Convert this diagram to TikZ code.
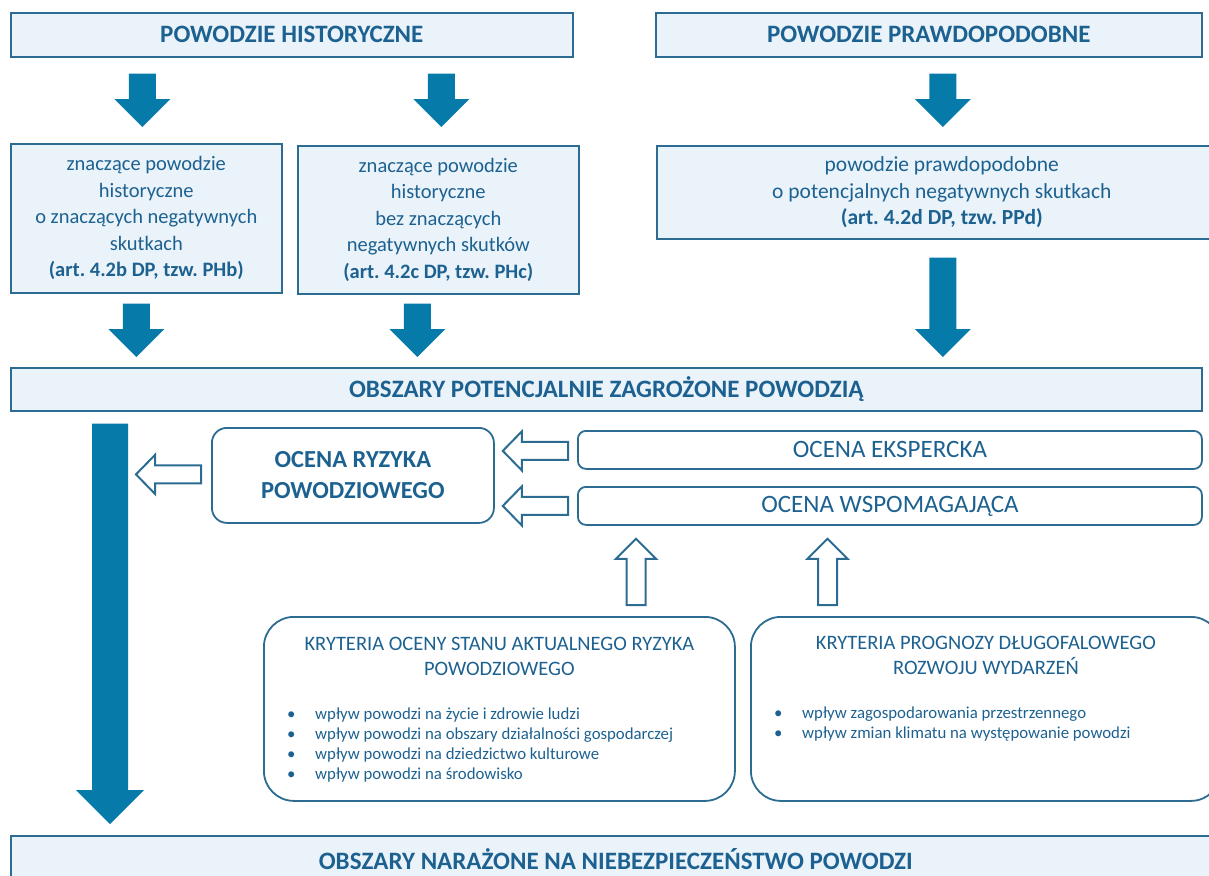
\documentclass[tikz,border=0pt]{standalone}
\usepackage{fontspec}
\setmainfont{Carlito}
\usetikzlibrary{calc,positioning}
\frenchspacing

\definecolor{txtblue}{HTML}{1D6190}
\definecolor{lineblue}{HTML}{2C6C93}
\definecolor{paleblue}{HTML}{EAF3FA}
\definecolor{arrowblue}{HTML}{067BAA}

% block arrow: style, from, to, shaft half width, head half width, head length
\newcommand{\blockarrow}[6]{%
  \coordinate (hb) at ($(#3)!#6!(#2)$);
  \draw[#1] ($(#2)!#4!90:(#3)$) -- ($(hb)!#4!-90:(#2)$) -- ($(hb)!#5!-90:(#2)$) -- (#3)
    -- ($(hb)!#5!90:(#2)$) -- ($(hb)!#4!90:(#2)$) -- ($(#2)!#4!-90:(#3)$) -- cycle;
}

\begin{document}
\begin{tikzpicture}[x=1pt, y=-1pt,
  headbox/.style = {draw=lineblue, line width=1.6pt, fill=paleblue, text=txtblue, inner sep=0pt,
    anchor=north west, align=center, font=\bfseries\fontsize{25}{29}\selectfont},
  textbox/.style = {headbox, font=\fontsize{20.5}{26.5}\selectfont},
  roundbox/.style = {draw=lineblue, line width=1.8pt, rounded corners=8pt, text=txtblue, inner sep=0pt,
    anchor=north west, align=center, font=\fontsize{25}{30}\selectfont},
  critbox/.style = {roundbox, rounded corners=30pt},
  crittitle/.style = {text=txtblue, align=center, inner sep=0pt, font=\fontsize{20.5}{25}\selectfont},
  critlist/.style = {text=txtblue, align=left, inner sep=0pt, font=\fontsize{16.8}{20}\selectfont},
  solidarr/.style = {fill=arrowblue, draw=none},
  hollowarr/.style = {draw=lineblue, line width=2pt, fill=white, line join=miter}]
	\clip (0,0) rectangle (1209,875);
	% sources
	\node[headbox, minimum width=562pt, minimum height=44pt] (hist) at (10,12) {POWODZIE HISTORYCZNE};
	\node[headbox, minimum width=546pt, minimum height=44pt] (prawd) at (655,12) {POWODZIE PRAWDOPODOBNE};
	\node[textbox, minimum width=271pt, minimum height=149pt] (phb) at (10,143)
		{znaczące powodzie\\historyczne\\o znaczących negatywnych\\skutkach\\\textbf{(art. 4.2b DP, tzw. PHb)}};
	\node[textbox, minimum width=281pt, minimum height=148pt] (phc) at (297,145)
		{znaczące powodzie\\historyczne\\bez znaczących\\negatywnych skutków\\\textbf{(art. 4.2c DP, tzw. PHc)}};
	\node[textbox, font=\fontsize{21.5}{26.5}\selectfont, minimum width=570pt, minimum height=93pt] (ppd) at (656,145)
		{powodzie prawdopodobne\\o potencjalnych negatywnych skutkach\\\textbf{(art. 4.2d DP, tzw. PPd)}};
	\node[headbox, minimum width=1191pt, minimum height=43pt] (obsz) at (10,367) {OBSZARY POTENCJALNIE ZAGROŻONE POWODZIĄ};
	% assessment
	\node[roundbox, rounded corners=15pt, font=\bfseries\fontsize{24.5}{31}\selectfont,
		minimum width=282pt, minimum height=95pt] (ryzyko) at (211,427) {OCENA RYZYKA\\POWODZIOWEGO};
	\node[roundbox, minimum width=624pt, minimum height=38pt] (ekspert) at (577,430) {OCENA EKSPERCKA};
	\node[roundbox, minimum width=624pt, minimum height=38pt] (wspom) at (577,486) {OCENA WSPOMAGAJĄCA};
	% criteria
	\node[critbox, minimum width=471pt, minimum height=184pt] (kryt1) at (263,616) {};
	\node[critbox, minimum width=470pt, minimum height=184pt] (kryt2) at (750,616) {};
	\node[crittitle, below=21pt of kryt1.north] (kryt1t) {KRYTERIA OCENY STANU AKTUALNEGO RYZYKA\\POWODZIOWEGO};
	\node[crittitle, below=20pt of kryt2.north] (kryt2t) {KRYTERIA PROGNOZY DŁUGOFALOWEGO\\ROZWOJU WYDARZEŃ};
	\node[critlist, below right=92pt and 24pt of kryt1.north west] (kryt1l)
		{\makebox[28pt][l]{\textbullet}wpływ powodzi na życie i zdrowie ludzi\\
		 \makebox[28pt][l]{\textbullet}wpływ powodzi na obszary działalności gospodarczej\\
		 \makebox[28pt][l]{\textbullet}wpływ powodzi na dziedzictwo kulturowe\\
		 \makebox[28pt][l]{\textbullet}wpływ powodzi na środowisko};
	\node[critlist, below right=91pt and 24pt of kryt2.north west] (kryt2l)
		{\makebox[28pt][l]{\textbullet}wpływ zagospodarowania przestrzennego\\
		 \makebox[28pt][l]{\textbullet}wpływ zmian klimatu na występowanie powodzi};
	\node[headbox, minimum width=1210pt, minimum height=46pt] (naraz) at (10,835) {OBSZARY NARAŻONE NA NIEBEZPIECZEŃSTWO POWODZI};

	% solid arrows
	\coordinate (a1s) at ($(hist.south -| phb.north)+(-4,16)$);
	\coordinate (a1e) at ($(phb.north)+(-4,-16)$);
	\coordinate (a2s) at ($(hist.south -| phc.north)+(3,16)$);
	\coordinate (a2e) at ($(phc.north)+(3,-18)$);
	\coordinate (a3s) at ($(prawd.south -| ppd.north)+(1,16)$);
	\coordinate (a3e) at ($(ppd.north)+(1,-18)$);
	\coordinate (a4s) at ($(phb.south)+(-10,10)$);
	\coordinate (a4e) at ($(phb.south |- obsz.north)+(-10,-10)$);
	\coordinate (a5s) at ($(phc.south)+(-21,9)$);
	\coordinate (a5e) at ($(phc.south |- obsz.north)+(-21,-10)$);
	\coordinate (a6s) at ($(ppd.south)+(1,18)$);
	\coordinate (a6e) at ($(ppd.south |- obsz.north)+(1,-10)$);
	\coordinate (a7s) at ($(obsz.south west)+(100,12)$);
	\coordinate (a7e) at ($(naraz.north west)+(100,-11)$);
	\foreach \a in {1,...,6} {
		\blockarrow{solidarr}{a\a s}{a\a e}{13.5pt}{28pt}{28pt}
	}
	\blockarrow{solidarr}{a7s}{a7e}{18pt}{34pt}{34pt}

	% hollow arrows
	\coordinate (h1s) at ($(ryzyko.west)+(-10,-1)$);
	\coordinate (h1e) at ($(ryzyko.west)+(-75,-1)$);
	\coordinate (h2s) at ($(ekspert.west)+(-9,1)$);
	\coordinate (h2e) at ($(ryzyko.east |- ekspert.west)+(8,1)$);
	\coordinate (h3s) at ($(wspom.west)+(-9,0)$);
	\coordinate (h3e) at ($(ryzyko.east |- wspom.west)+(8,0)$);
	\coordinate (u1s) at ($(kryt1.north west)+(373,-11)$);
	\coordinate (u1e) at ($(wspom.south west)+(59,13)$);
	\coordinate (u2s) at ($(kryt2.north west)+(77.5,-11)$);
	\coordinate (u2e) at ($(wspom.south west)+(250.5,13)$);
	\foreach \a in {h1,h2,h3} {
		\blockarrow{hollowarr}{\a s}{\a e}{9pt}{19.5pt}{19pt}
	}
	\foreach \a in {u1,u2} {
		\blockarrow{hollowarr}{\a s}{\a e}{9.5pt}{20pt}{20pt}
	}
\end{tikzpicture}
\end{document}
